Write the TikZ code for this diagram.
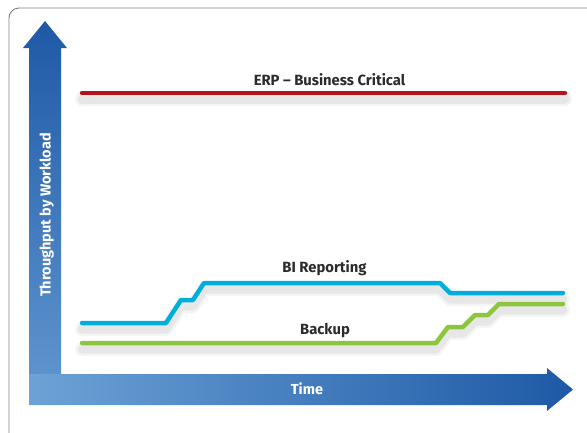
\documentclass[tikz,border=0pt]{standalone}
\usepackage{fontspec}
\setmainfont{Fira Sans}
\definecolor{erpred}{HTML}{B5121B}
\definecolor{bicyan}{HTML}{00AEDB}
\definecolor{bkgreen}{HTML}{8CC63F}
\definecolor{darkblue}{HTML}{1E59A6}
\definecolor{lightblue}{HTML}{6CA2D6}
\definecolor{midblue}{HTML}{5D93CD}
\definecolor{labelgray}{HTML}{2B2B2B}
\definecolor{framegray}{HTML}{7F7F7F}
\tikzset{
  series/.style={line width=4.5pt, line cap=round, line join=round},
  shadowA/.style={line width=14pt, line cap=round, line join=round, draw=black, draw opacity=0.04},
  shadowB/.style={line width=9pt, line cap=round, line join=round, draw=black, draw opacity=0.06},
  label/.style={font=\bfseries\fontsize{14.8}{16}\selectfont, text=labelgray, inner sep=0pt},
  axislabel/.style={font=\bfseries\fontsize{14.5}{16}\selectfont, text=white, inner sep=0pt}
}
\begin{document}
\begin{tikzpicture}[x=1pt,y=-1pt]
\useasboundingbox (0,0) rectangle (587,432);
\begin{scope}
\clip (0,0) rectangle (587,432);
\draw[framegray, line width=0.9pt, rounded corners=10pt] (9,8) rectangle (620,460);
\end{scope}
% axes arrows
\shade[top color=darkblue, bottom color=midblue]
  (29,376) -- (29,48) -- (23,48) -- (45,21) -- (67,48) -- (61,48) -- (61,376) -- cycle;
\shade[left color=lightblue, right color=darkblue]
  (29,374) -- (547,374) -- (547,368) -- (573,389.5) -- (547,411) -- (547,405) -- (29,405) -- cycle;
% series shadows
\begin{scope}[shift={(0,6)}]
\draw[shadowA] (82,93) -- (565,93);
\draw[shadowB] (82,93) -- (565,93);
\draw[shadowA] (82,323) -- (166,323) -- (181,300) -- (193,300) -- (204,283) -- (440,283) -- (450,293) -- (563,293);
\draw[shadowB] (82,323) -- (166,323) -- (181,300) -- (193,300) -- (204,283) -- (440,283) -- (450,293) -- (563,293);
\draw[shadowA] (82,343) -- (436,343) -- (448,327) -- (463,327) -- (475,315) -- (488,315) -- (499,304) -- (563,304);
\draw[shadowB] (82,343) -- (436,343) -- (448,327) -- (463,327) -- (475,315) -- (488,315) -- (499,304) -- (563,304);
\end{scope}
% series
\draw[series, erpred] (82,93) -- (565,93);
\draw[series, bicyan] (82,323) -- (166,323) -- (181,300) -- (193,300) -- (204,283) -- (440,283) -- (450,293) -- (563,293);
\draw[series, bkgreen] (82,343) -- (436,343) -- (448,327) -- (463,327) -- (475,315) -- (488,315) -- (499,304) -- (563,304);
% labels
\node[label, anchor=base] (erp) at (329.5,85) {ERP – Business Critical};
\node[label, anchor=base] (bi) at (324.5,272) {BI Reporting};
\node[label, anchor=base] (backup) at (325,334) {Backup};
\node[axislabel, anchor=base] (time) at (307,394) {Time};
\node[axislabel, anchor=base, rotate=90] (thr) at (50.5,215) {Throughput by Workload};
\end{tikzpicture}
\end{document}
